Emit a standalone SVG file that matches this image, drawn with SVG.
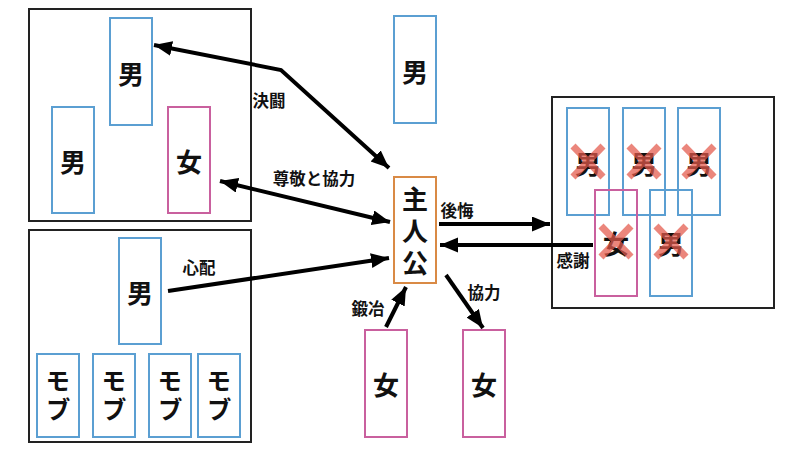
<svg xmlns="http://www.w3.org/2000/svg" width="800" height="450" viewBox="0 0 800 450">
<defs>
<style>
.frame{fill:none;stroke:#222;stroke-width:2}
.m{fill:#fff;stroke:#5b9fd2;stroke-width:2}
.f{fill:#fff;stroke:#c9609e;stroke-width:2}
.h{fill:#fff;stroke:#d98a45;stroke-width:2}
.nf{fill:none}
.big{font-family:"Noto Sans CJK JP","Noto Sans CJK SC",sans-serif;font-weight:bold;font-size:26px;text-anchor:middle;dominant-baseline:central;fill:#111}
.vt{font-family:"Noto Sans CJK JP","Noto Sans CJK SC",sans-serif;font-weight:bold;text-anchor:middle;writing-mode:vertical-rl;fill:#111}
.mob{font-size:25px;letter-spacing:4px}
.hero{font-size:26px;letter-spacing:6px}
.lbl{font-family:"Noto Sans CJK JP","Noto Sans CJK SC",sans-serif;font-weight:bold;font-size:16.5px;text-anchor:middle;dominant-baseline:central;fill:#111}
.arr{fill:none;stroke:#000;stroke-width:4;stroke-linejoin:miter}
.x{stroke:#e4584a;stroke-width:7;stroke-linecap:butt;opacity:0.72}
</style>
<marker id="ah" markerUnits="userSpaceOnUse" markerWidth="20" markerHeight="16" refX="18" refY="7.5" orient="auto-start-reverse" viewBox="0 0 20 16">
<path d="M0,0 L18,7.5 L0,15 z" fill="#000"/>
</marker>
</defs>
<rect width="800" height="450" fill="#fff"/>

<g id="group-left-top">
<rect class="frame" x="29" y="9" width="222" height="212"/>
</g>
<g id="lt-man-top"><rect class="m" x="110" y="18" width="42" height="107"/><text class="big" x="131" y="72">男</text></g>
<g id="lt-man-left"><rect class="m" x="52" y="107" width="42" height="106"/><text class="big" x="73" y="160">男</text></g>
<g id="lt-woman"><rect class="f" x="168" y="107" width="42" height="106"/><text class="big" x="189" y="160">女</text></g>

<g id="group-left-bottom">
<rect class="frame" x="29" y="230" width="222" height="212"/>
</g>
<g id="lb-man"><rect class="m" x="119" y="238" width="42" height="106"/><text class="big" x="140" y="291">男</text></g>
<g id="mob1"><rect class="m" x="37" y="354" width="42" height="83"/><text class="vt mob" x="58" y="397">モブ</text></g>
<g id="mob2"><rect class="m" x="93" y="354" width="42" height="83"/><text class="vt mob" x="114" y="397">モブ</text></g>
<g id="mob3"><rect class="m" x="149" y="354" width="42" height="83"/><text class="vt mob" x="170" y="397">モブ</text></g>
<g id="mob4"><rect class="m" x="198" y="354" width="42" height="83"/><text class="vt mob" x="219" y="397">モブ</text></g>

<g id="mid-man"><rect class="m" x="394" y="16" width="42" height="107"/><text class="big" x="415" y="70">男</text></g>
<g id="hero"><rect class="h" x="394" y="177" width="42" height="106"/><text class="vt hero" x="415" y="234">主人公</text></g>
<g id="woman-smith"><rect class="f" x="365" y="330" width="42" height="107"/><text class="big" x="386" y="383">女</text></g>
<g id="woman-coop"><rect class="f" x="463" y="330" width="42" height="107"/><text class="big" x="484" y="383">女</text></g>

<g id="group-right">
<rect class="frame" x="552" y="97" width="222" height="211"/>
</g>
<g id="r-man1"><rect class="m" x="567" y="108" width="42" height="107"/><text class="big" x="588" y="162">男</text><path class="x" d="M573,146 L603,177 M603,146 L573,177"/></g>
<g id="r-man2"><rect class="m" x="623" y="108" width="42" height="107"/><text class="big" x="644" y="162">男</text><path class="x" d="M629,146 L659,177 M659,146 L629,177"/></g>
<g id="r-man3"><rect class="m" x="678" y="108" width="42" height="107"/><text class="big" x="699" y="162">男</text><path class="x" d="M684,146 L714,177 M714,146 L684,177"/></g>
<g id="r-woman"><rect class="f nf" x="595" y="190" width="42" height="106"/><text class="big" x="616" y="242">女</text><path class="x" d="M601,226 L631,257 M631,226 L601,257"/></g>
<g id="r-man4"><rect class="m nf" x="650" y="190" width="42" height="106"/><text class="big" x="671" y="242">男</text><path class="x" d="M656,226 L686,257 M686,226 L656,257"/></g>

<g id="connectors">
<path class="arr" d="M154,45 L281,70 L389,168" marker-start="url(#ah)" marker-end="url(#ah)"/>
<path class="arr" d="M220,181 L390,222" marker-start="url(#ah)" marker-end="url(#ah)"/>
<path class="arr" d="M168,291 L389,258" marker-end="url(#ah)"/>
<path class="arr" d="M439,224 L550,224" marker-end="url(#ah)"/>
<path class="arr" d="M593,245 L440,245" marker-end="url(#ah)"/>
<path class="arr" d="M386,327 L406,287" marker-end="url(#ah)"/>
<path class="arr" d="M446,275 L483,328" marker-end="url(#ah)"/>
<text class="lbl" x="269" y="100">決闘</text>
<text class="lbl" x="314" y="178">尊敬と協力</text>
<text class="lbl" x="199" y="267">心配</text>
<text class="lbl" x="457" y="210">後悔</text>
<text class="lbl" x="573" y="260">感謝</text>
<text class="lbl" x="368" y="308">鍛冶</text>
<text class="lbl" x="484" y="292">協力</text>
</g>
</svg>
